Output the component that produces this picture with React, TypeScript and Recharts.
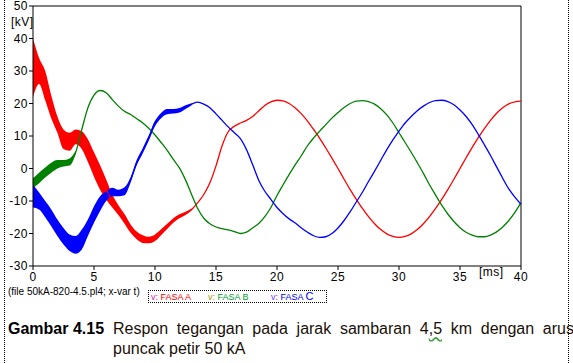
import React from "react";
import { Area, ComposedChart, Line, ReferenceLine, XAxis, YAxis } from "recharts";

// waktu [ms], tiap 0.5 ms
const waktu = [
  0, 0.5, 1, 1.5, 2, 2.5, 3, 3.5, 4, 4.5, 5, 5.5, 6, 6.5, 7, 7.5, 8, 8.5, 9, 9.5,
  10, 10.5, 11, 11.5, 12, 12.5, 13, 13.5, 14, 14.5, 15, 15.5, 16, 16.5, 17, 17.5, 18, 18.5, 19, 19.5,
  20, 20.5, 21, 21.5, 22, 22.5, 23, 23.5, 24, 24.5, 25, 25.5, 26, 26.5, 27, 27.5, 28, 28.5, 29, 29.5,
  30, 30.5, 31, 31.5, 32, 32.5, 33, 33.5, 34, 34.5, 35, 35.5, 36, 36.5, 37, 37.5, 38, 38.5, 39, 39.5, 40
];

// tegangan [kV]
const fasaA = [
  31, 30, 25.5, 19, 13.5, 9, 8.3, 9.7, 8.7, 5.5, 1.2, -2.7, -6.4, -10, -12.8, -15.5, -18.5, -20.6, -21.7, -22,
  -21.3, -19.6, -17.8, -16, -14.7, -13.8, -12.6, -10.5, -8, -4.4, 0.8, 7, 11.3, 13, 14, 14.8, 16, 17.7, 19.4, 20.5,
  21, 20.8, 20, 18.6, 16.8, 14.6, 12, 9.3, 6.3, 3.2, 0, -3.3, -6.5, -9.5, -12.3, -14.8, -17, -18.8, -20.1, -20.9,
  -21.2, -20.9, -20.1, -18.8, -17, -14.8, -12.3, -9.5, -6.5, -3.3, 0, 3.3, 6.5, 9.5, 12.3, 14.8, 17, 18.7, 19.9, 20.5, 20.7
];
const fasaB = [
  -4.5, -2.9, -1.3, 0.3, 1.3, 1.6, 2, 5, 12, 18.7, 22.6, 24, 23.3, 21.2, 19.2, 17.6, 16.6, 15.3, 14, 12.3,
  10.3, 8, 5.6, 2.8, 0.2, -3.5, -8, -12.3, -15.3, -17, -18, -18.5, -18.9, -19.4, -20, -19.6, -18.3, -16.9, -14.8, -12,
  -8.3, -5, -1.8, 1.2, 4, 7, 9.4, 11.5, 13.5, 15.5, 17.2, 18.8, 20, 20.7, 20.9, 20.6, 19.8, 18.4, 16.5, 14,
  11, 8, 5, 1.8, -1.5, -5, -8.2, -11.3, -14, -16.3, -18.2, -19.6, -20.5, -21, -21, -20.5, -19.5, -18, -16, -13.5, -10.5
];
const fasaC = [
  -8.5, -10, -12.5, -15.2, -18.2, -20.8, -22.8, -23.5, -21.8, -18.2, -14.2, -10.8, -8.5, -7.2, -7.5, -7, -3.5, 1.8, 5.5, 9.4,
  14.2, 16.3, 17.5, 17.6, 17.9, 18.9, 19.8, 20.4, 19.8, 18.7, 16.8, 14.8, 12.8, 11, 9.2, 5.8, 1.2, -3.6, -7, -9.5,
  -12, -13.9, -15.5, -16.8, -18.3, -19.6, -20.7, -21.2, -21, -20, -18.3, -16, -13.3, -10.3, -7.3, -4, -0.8, 2.5, 5.8, 8.8,
  11.5, 14, 16, 17.8, 19.2, 20.3, 20.9, 21, 20.6, 19.6, 18, 16, 13.5, 10.5, 7.3, 4, 0.5, -3, -6.3, -8.8, -11
];

// batas osilasi frekuensi tinggi (pita tebal) di awal
const fasaALo = [22, 26, 21, 15.4, 11, 6, 5.5, 7.5, 6, 2, -2.5, -6.5, -9.5, -12, -14.3, -17, -19.8, -21.8, -22.9, -23, -22.3, -20.5, -18.6, -16.7, -15.3, -14.3, -12.9];
const fasaAHi = [40, 34, 30, 22.5, 16, 12, 11, 12, 11.5, 9, 5, 1, -3.4, -8, -11.3, -14, -17.2, -19.4, -20.5, -21, -20.3, -18.7, -17, -15.3, -14.1, -13.3, -12.3];
const fasaBLo = [-6, -4.5, -2.8, -1.3, 0, 0.6, 0.9, 4.5];
const fasaBHi = [-3, -1.3, 0.3, 1.8, 2.6, 2.6, 3.1, 5.5];
const fasaCLo = [-12, -12.6, -15, -17.8, -20.8, -23.4, -25.4, -26.2, -24.9, -20.8, -16.7, -13.1, -10, -8.5, -8.5, -8.2, -4.3, 1, 4.7, 8.7, 13, 15.5, 16.7, 16.9, 17.2, 18.3, 19.5];
const fasaCHi = [-5, -7.4, -10, -12.6, -15.7, -18.3, -20.3, -20.8, -18.8, -15.7, -11.6, -8.5, -7, -5.9, -6.5, -5.8, -2.7, 2.6, 6.3, 10.3, 14.6, 17.1, 18.3, 18.3, 18.6, 19.5, 20.1];

const xTicks = [0, 5, 10, 15, 20, 25, 30, 35, 40];
const yTicks = [-30, -20, -10, 0, 10, 20, 30, 40, 50];

const MERAH = "#ff0000";
const HIJAU = "#008000";
const BIRU = "#0000ff";
const FONT = "'Liberation Sans', Arial, sans-serif";

const band = (lo: number[], hi: number[], i: number) => (i < lo.length ? [lo[i], hi[i]] : null);

const data = waktu.map((t, i) => ({
  t,
  a: fasaA[i],
  b: fasaB[i],
  c: fasaC[i],
  aBand: band(fasaALo, fasaAHi, i),
  bBand: band(fasaBLo, fasaBHi, i),
  cBand: band(fasaCLo, fasaCHi, i)
}));

const tickStyle = { fontSize: 12, fill: "#000", fontFamily: FONT, letterSpacing: 0.5 };

export default function App() {
  return (
    <div
      style={{
        position: "fixed",
        left: 0,
        top: 0,
        width: 573,
        height: 363,
        background: "#fff",
        fontFamily: FONT,
        overflow: "hidden"
      }}
    >
      <div style={{ position: "absolute", left: 4, top: 0, height: 363, borderLeft: "1px dotted #000" }} />
      <div style={{ position: "absolute", left: 568, top: 0, height: 363, borderLeft: "1px dotted #000" }} />

      <ComposedChart width={573} height={290} data={data} margin={{ top: 6, right: 52, bottom: 0, left: 5 }}>
        <XAxis
          dataKey="t"
          type="number"
          domain={[0, 40]}
          ticks={xTicks}
          tick={tickStyle}
          tickSize={4}
          tickMargin={2}
          height={24}
          stroke="#000"
          interval={0}
        />
        <YAxis
          type="number"
          domain={[-30, 50]}
          ticks={yTicks}
          tick={tickStyle}
          tickSize={4}
          tickMargin={1}
          width={28}
          stroke="#000"
          interval={0}
        />
        <ReferenceLine y={50} stroke="#000" />
        <ReferenceLine x={40} stroke="#000" />

        <Area dataKey="aBand" type="monotone" stroke="none" fill={MERAH} fillOpacity={1} isAnimationActive={false} />
        <Line dataKey="a" type="monotone" stroke={MERAH} strokeWidth={1.3} dot={false} isAnimationActive={false} />
        <Area dataKey="bBand" type="monotone" stroke="none" fill={HIJAU} fillOpacity={1} isAnimationActive={false} />
        <Line dataKey="b" type="monotone" stroke={HIJAU} strokeWidth={1.3} dot={false} isAnimationActive={false} />
        <Area dataKey="cBand" type="monotone" stroke="none" fill={BIRU} fillOpacity={1} isAnimationActive={false} />
        <Line dataKey="c" type="monotone" stroke={BIRU} strokeWidth={1.3} dot={false} isAnimationActive={false} />
      </ComposedChart>

      <div style={{ position: "absolute", left: 11, top: 15, fontSize: 12, letterSpacing: 0.5 }}>[kV]</div>
      <div style={{ position: "absolute", left: 479, top: 265, fontSize: 12, letterSpacing: 0.5 }}>[ms]</div>
      <div style={{ position: "absolute", left: 8, top: 286, fontSize: 10 }}>(file 50kA-820-4.5.pl4; x-var t)</div>

      <div
        style={{
          position: "absolute",
          left: 148,
          top: 290,
          width: 177,
          height: 11,
          border: "1px dotted #000",
          fontSize: 9,
          lineHeight: "10px",
          whiteSpace: "nowrap"
        }}
      >
        <span style={{ position: "absolute", left: 2, top: 1 }}>
          <span style={{ color: "#e0209f" }}>v:</span> <span style={{ color: MERAH }}>FASA A</span>
        </span>
        <span style={{ position: "absolute", left: 59, top: 1 }}>
          <span style={{ color: "#9aa000" }}>v:</span> <span style={{ color: "#00a030" }}>FASA B</span>
        </span>
        <span style={{ position: "absolute", left: 122, top: 0 }}>
          <span style={{ color: "#7a30ff" }}>v:</span>{" "}
          <span style={{ color: BIRU }}>
            FASA <span style={{ fontSize: 11 }}>C</span>
          </span>
        </span>
      </div>

      <div style={{ position: "absolute", left: 8, top: 319, fontSize: 16, lineHeight: "20px", fontWeight: "bold", color: "#000" }}>
        Gambar 4.15
      </div>
      <div style={{ position: "absolute", left: 113, top: 319, width: 461, fontSize: 16, lineHeight: "20px", color: "#1a1008" }}>
        <div style={{ textAlign: "justify", textAlignLast: "justify" }}>
          Respon tegangan pada jarak sambaran 4
          <span style={{ textDecoration: "underline wavy #3a9a3a", textUnderlineOffset: 2 }}>,5</span> km dengan arus
        </div>
        <div>puncak petir 50 kA</div>
      </div>
    </div>
  );
}
